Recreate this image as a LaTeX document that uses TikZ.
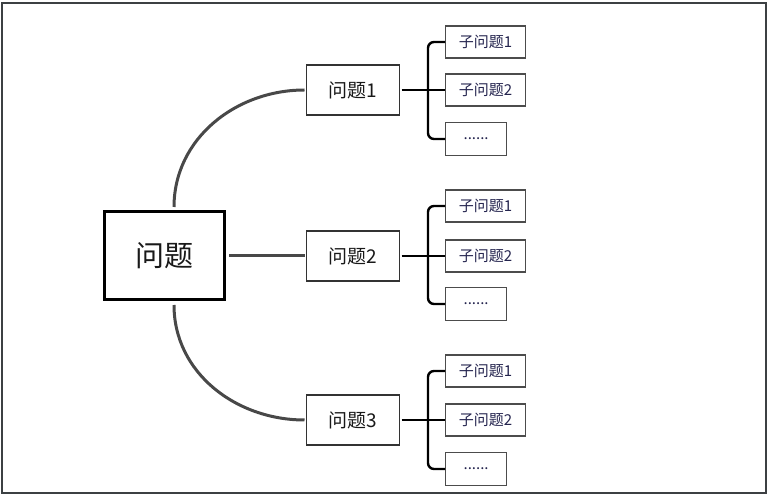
\documentclass[tikz,border=0pt]{standalone}
\usepackage{fontspec}
\setmainfont{Noto Sans CJK SC}
\definecolor{framegray}{HTML}{3C4043}
\definecolor{linegray}{HTML}{484848}
\definecolor{subtext}{HTML}{24244E}

\tikzset{
    root/.style={draw=black, line width=3pt, minimum width=120pt, minimum height=88pt,
        font=\fontsize{29}{32}\selectfont, text=black!90, outer sep=5pt},
    topic/.style={draw=black!80, line width=1.6pt, minimum width=93pt, minimum height=50pt,
        font=\fontsize{19}{21}\selectfont, text=black!90, outer sep=2pt},
    subbox/.style={draw=black!70, line width=1.2pt, minimum width=80pt, minimum height=32pt,
        anchor=west, font=\fontsize{15}{17}\selectfont, text=subtext},
    dotbox/.style={subbox, minimum width=61pt, minimum height=33pt},
    branch/.style={draw=linegray, line width=3pt},
    twig/.style={draw=black, line width=2.4pt, rounded corners=6pt}
}

\begin{document}
\begin{tikzpicture}[x=1pt, y=1pt]
        \useasboundingbox (0,0) rectangle (769,498);
        \draw[framegray, line width=1.5pt] (2,5) rectangle (766,495);

        % root
        \node[root] (q) at (164, 242) {问题};

        % first level
        \node[topic] (q1) at (353, 408) {问题1};
        \node[topic] (q2) at (353, 242) {问题2};
        \node[topic] (q3) at (353, 78) {问题3};

        \draw[branch] ([xshift=10pt]q.north) to[out=90, in=180] (q1.west);
        \draw[branch] (q.east) -- (q2.west);
        \draw[branch] ([xshift=10pt]q.south) to[out=-90, in=180] (q3.west);

        % group 1
        \node[subbox] (s11) at (445, 456) {子问题1};
        \node[subbox] (s12) at (445, 408) {子问题2};
        \node[dotbox] (s13) at (445, 359) {......};
        \coordinate (t1) at (428, 408);
        \draw[twig] (q1.east) -- (s12.west);
        \draw[twig] (s11.west) -| (t1) |- (s13.west);

        % group 2
        \node[subbox] (s21) at (445, 292) {子问题1};
        \node[subbox] (s22) at (445, 242) {子问题2};
        \node[dotbox] (s23) at (445, 194) {......};
        \coordinate (t2) at (428, 242);
        \draw[twig] (q2.east) -- (s22.west);
        \draw[twig] (s21.west) -| (t2) |- (s23.west);

        % group 3
        \node[subbox] (s31) at (445, 127) {子问题1};
        \node[subbox] (s32) at (445, 78) {子问题2};
        \node[dotbox] (s33) at (445, 29) {......};
        \coordinate (t3) at (428, 78);
        \draw[twig] (q3.east) -- (s32.west);
        \draw[twig] (s31.west) -| (t3) |- (s33.west);
    \end{tikzpicture}
\end{document}
